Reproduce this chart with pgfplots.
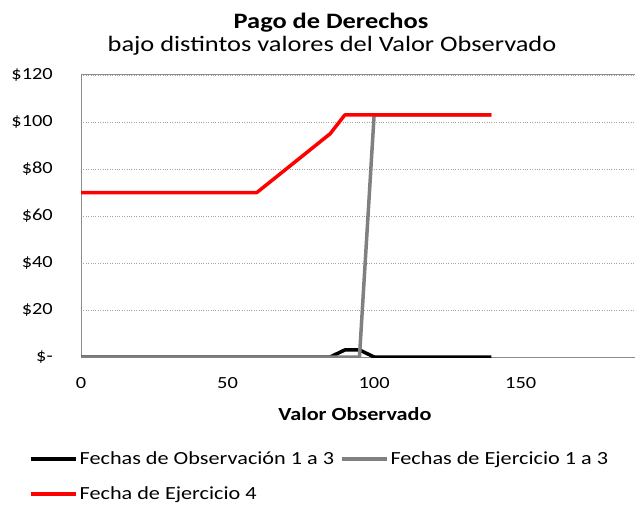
\documentclass[border=0pt]{standalone}
\usepackage{fontspec}
\setmainfont{Carlito}[FakeStretch=1.2]
\usepackage{pgfplots}
\pgfplotsset{compat=1.18}
\definecolor{axisgray}{RGB}{140,140,140}
\definecolor{gridgray}{RGB}{165,165,165}
\definecolor{seriesgray}{RGB}{128,128,128}
\begin{document}
\begin{tikzpicture}[x=1pt,y=1pt,font=\fontsize{17}{20}\selectfont]
\path[use as bounding box] (0,0) rectangle (635,504);
\begin{axis}[
  at={(81pt,147pt)}, anchor=south west,
  scale only axis, width=554pt, height=282pt,
  xmin=0, xmax=189, ymin=0, ymax=120,
  axis x line*=box, axis y line*=left,
  axis line style={draw=axisgray, line width=1pt},
  xtick={0,50,100,150}, xticklabels={0,50,100,150},
  ytick={0,20,40,60,80,100,120},
  yticklabels={\$-,\$20,\$40,\$60,\$80,\$100,\$120},
  major tick length=0pt,
  ymajorgrids, grid style={dotted, gridgray, line width=0.8pt},
  yticklabel style={anchor=east, inner sep=0pt, xshift=-28pt, font=\fontsize{17}{20}\selectfont},
  xticklabel style={anchor=north, inner sep=0pt, yshift=-20pt, font=\fontsize{17}{20}\selectfont},
  legend columns=2,
  legend cell align=left,
  legend style={at={(0,0)}, anchor=north west, xshift=-52pt, yshift=-92pt,
    draw=none, fill=none, inner sep=0pt, row sep=15pt,
    font=\fontsize{18.5}{22}\selectfont,
    nodes={text height=13pt, text depth=3pt},
    /tikz/every even column/.append style={column sep=4pt}},
  legend image code/.code={\draw[#1] (0pt,0pt) -- (45pt,0pt);},
]
\addplot[black, line width=3.5pt, line join=round] coordinates {(0,0) (85,0) (90,3) (95,3) (100,0) (140,0)};
\addlegendentry{Fechas de Observación 1 a 3}
\addplot[seriesgray, line width=3.5pt, line join=round] coordinates {(0,0) (95,0) (100,103) (140,103)};
\addlegendentry{Fechas de Ejercicio 1 a 3}
\addplot[red, line width=3.5pt, line join=round] coordinates {(0,70) (60,70) (85,95) (90,103) (140,103)};
\addlegendentry{Fecha de Ejercicio 4}
\end{axis}
\node[anchor=base, font=\fontsize{22}{26}\selectfont\bfseries] at (331,475) {Pago de Derechos};
\node[anchor=base, font=\fontsize{22}{26}\selectfont] at (332,452) {bajo distintos valores del Valor Observado};
\node[anchor=base, font=\fontsize{18.5}{22}\selectfont\bfseries] at (355,84) {Valor Observado};
\end{tikzpicture}
\end{document}
